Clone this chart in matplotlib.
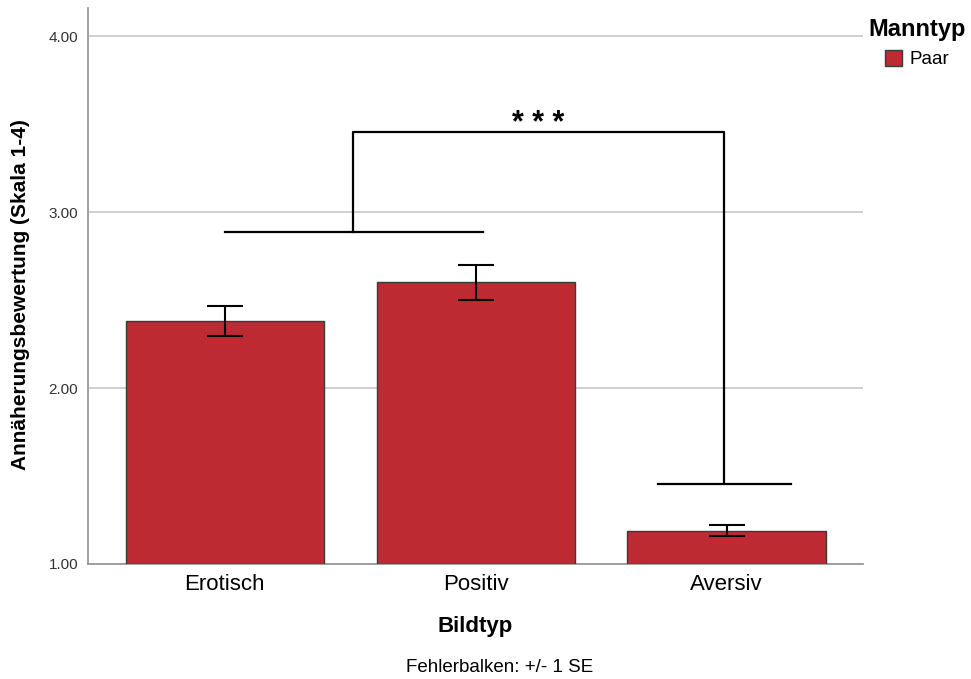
import numpy as np
import matplotlib.pyplot as plt

plt.rcParams['font.family'] = ['Liberation Sans', 'DejaVu Sans']

# Mittelwerte und Standardfehler je Bildtyp
bildtyp = ['Erotisch', 'Positiv', 'Aversiv']
mittelwert = [2.38, 2.60, 1.19]
se = [0.085, 0.10, 0.03]

fig = plt.figure(figsize=(9.71, 6.79), dpi=100)
ax = fig.add_axes([0.0906, 0.1694, 0.798, 0.8186])

x = np.arange(len(bildtyp))
ax.bar(x, np.array(mittelwert) - 1, bottom=1, width=0.79, color='#BE2A32',
       edgecolor='#3a3a3a', linewidth=1.0, zorder=3, label='Paar')
ax.errorbar(x, mittelwert, yerr=se, fmt='none', ecolor='black', elinewidth=1.5,
            capsize=13, capthick=1.5, zorder=4)

# Signifikanzklammer
lw = 1.6
ax.plot([0, 1.03], [2.886, 2.886], color='black', lw=lw, zorder=5)
ax.plot([1.725, 2.255], [1.455, 1.455], color='black', lw=lw, zorder=5)
ax.plot([0.51, 0.51, 1.99, 1.99], [2.886, 3.455, 3.455, 1.455], color='black', lw=lw, zorder=5)
ax.text(1.25, 3.455, '* * *', ha='center', va='baseline', fontsize=22, fontweight='bold')

ax.set_xlim(-0.545, 2.543)
ax.set_ylim(1, 4.159)
ax.set_yticks([1, 2, 3, 4])
ax.set_yticklabels(['1.00', '2.00', '3.00', '4.00'], fontsize=11, color='#333333')
ax.set_xticks(x)
ax.set_xticklabels(bildtyp, fontsize=16)
ax.tick_params(axis='x', length=0, pad=7)
ax.tick_params(axis='y', length=0, pad=7)
ax.yaxis.grid(True, color='#cccccc', linewidth=1.3, zorder=0)
ax.set_axisbelow(True)

for s in ['top', 'right']:
    ax.spines[s].set_visible(False)
ax.spines['left'].set_color('#999999')
ax.spines['bottom'].set_color('#999999')
ax.spines['left'].set_linewidth(1.3)
ax.spines['bottom'].set_linewidth(1.3)

ax.set_ylabel('Annäherungsbewertung (Skala 1-4)', fontsize=15, fontweight='bold')
ax.yaxis.set_label_coords(-0.075, 0.484)
ax.set_xlabel('Bildtyp', fontsize=16, fontweight='bold', labelpad=15)
fig.text(0.515, 0.004, 'Fehlerbalken: +/- 1 SE', ha='center', va='bottom', fontsize=13.5)

leg = fig.legend(loc='upper left', bbox_to_anchor=(0.887, 0.985), title='Manntyp',
                 frameon=False, fontsize=13.5, handlelength=0.9, handleheight=0.9,
                 handletextpad=0.4, borderaxespad=0)
leg.get_title().set_fontweight('bold')
leg.get_title().set_fontsize(17)

fig.savefig('out.png', dpi=100)
